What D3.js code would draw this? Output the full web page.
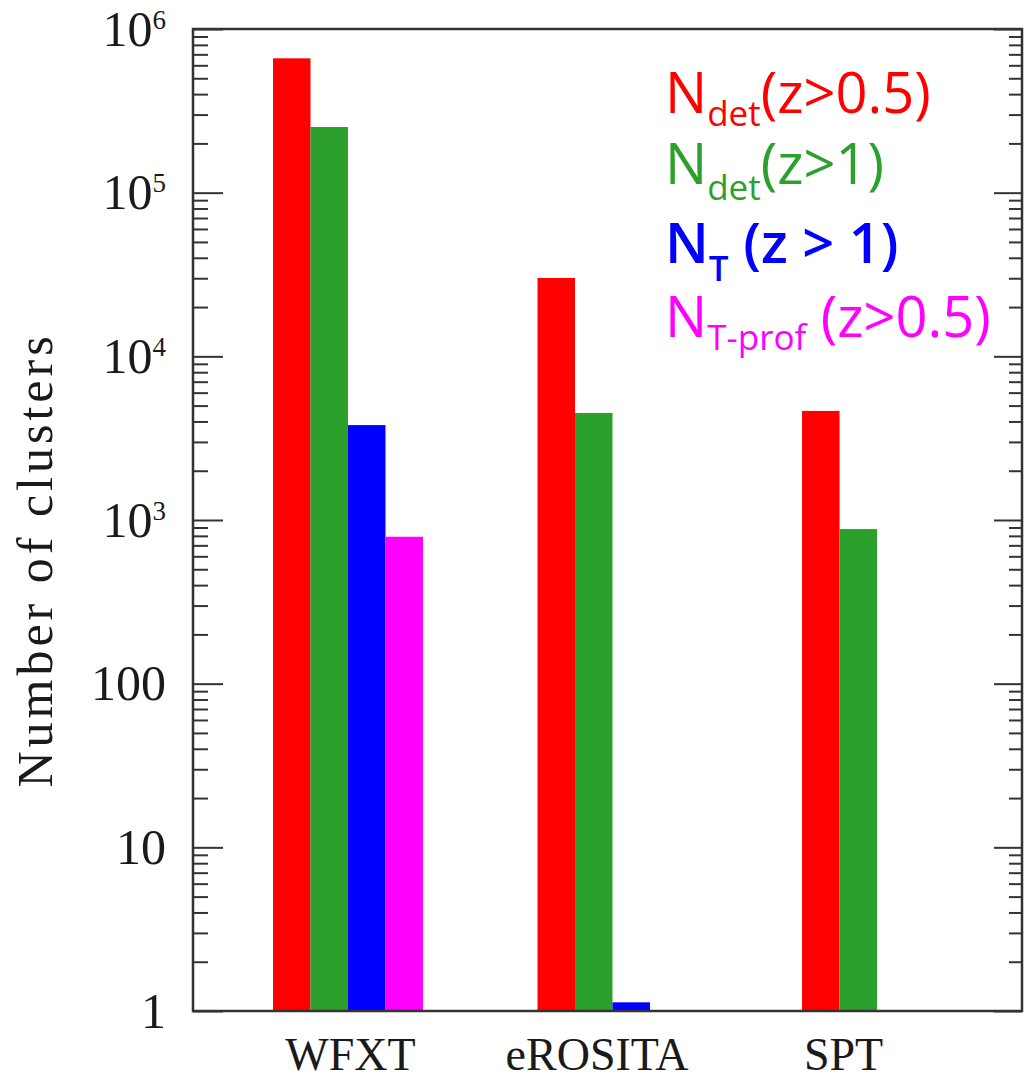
<!DOCTYPE html>
<html lang="en">
<head>
    <meta charset="UTF-8">
    <title>Number of clusters</title>
    <style>
    body { margin: 0; background: #fff; }
    svg { display: block; }
    .tick line { stroke: #333; stroke-width: 2; }
    </style>
</head>
<body>
    <svg class="bar-chart"></svg>

<script src="https://cdn.jsdelivr.net/npm/d3@7"></script>
<script>

    // survey names and counts
    var categories = ["WFXT", "eROSITA", "SPT"];
    var ndetZ05   = [662000, 30100, 4640];
    var ndetZ1    = [252000, 4510, 880];
    var nTz1      = [3800, 1.13, null];
    var nTprofZ05 = [790, null, null];

    var seriesKeys = ["ndetZ05", "ndetZ1", "nTz1", "nTprofZ05"];
    var seriesColors = ["#ff0000", "#2ca02c", "#0000ff", "#ff00ff"];
    var yTickValues = [1, 10, 100, 1e3, 1e4, 1e5, 1e6];

    var svgWidth = 1025, svgHeight = 1081;
    var plotLeft = 193, plotRight = 1022, plotTop = 29, plotBottom = 1011;

    var svg = d3.select("svg")
        .attr("width", svgWidth)
        .attr("height", svgHeight);

    var yScale = d3.scaleLog()
        .domain([1, 1e6])
        .range([plotBottom, plotTop]);

    var x0 = d3.scaleBand()
        .domain(categories)
        .range([273, 952])
        .paddingInner(0.433);

    var x1 = d3.scaleBand()
        .domain(seriesKeys)
        .range([0, x0.bandwidth()]);

    var xLabels = d3.scalePoint()
        .domain(categories)
        .range([350, 843]);

    // one row per category/series pair
    var series = [ndetZ05, ndetZ1, nTz1, nTprofZ05];
    var bars = [];
    categories.forEach(function (c, i) {
        series.forEach(function (s, j) {
            if (s[i] != null) bars.push({cat: c, key: seriesKeys[j], value: s[i], color: seriesColors[j]});
        });
    });

    svg.selectAll("rect.bar")
        .data(bars)
        .enter()
        .append("rect")
        .attr("class", "bar")
        .attr("x", function (d) { return x0(d.cat) + x1(d.key); })
        .attr("width", x1.bandwidth())
        .attr("y", function (d) { return yScale(d.value); })
        .attr("height", function (d) { return yScale(1) - yScale(d.value); })
        .style("fill", function (d) { return d.color; });

    // minor ticks 2..9 in each decade
    var minorTicks = [];
    for (var e = 0; e < 6; e++) {
        for (var m = 2; m < 10; m++) minorTicks.push(m * Math.pow(10, e));
    }

    function styleAxis(g) {
        g.select(".domain").remove();
    }

    svg.append("g")
        .attr("transform", "translate(" + plotLeft + ",0)")
        .call(d3.axisLeft(yScale).tickValues(minorTicks).tickSize(-15).tickFormat(""))
        .call(styleAxis);

    svg.append("g")
        .attr("transform", "translate(" + plotRight + ",0)")
        .call(d3.axisRight(yScale).tickValues(minorTicks).tickSize(-13).tickFormat(""))
        .call(styleAxis);

    svg.append("g")
        .attr("transform", "translate(" + plotRight + ",0)")
        .call(d3.axisRight(yScale).tickValues(yTickValues).tickSize(-28).tickFormat(""))
        .call(styleAxis);

    var yAxis = svg.append("g")
        .attr("transform", "translate(" + plotLeft + ",0)")
        .call(d3.axisLeft(yScale).tickValues(yTickValues).tickSize(-30).tickPadding(27).tickFormat(""))
        .call(styleAxis);

    yAxis.selectAll(".tick text").each(function (d) {
        var t = d3.select(this)
            .attr("fill", "#1a1a1a")
            .style("font-family", "'Liberation Serif', serif")
            .style("font-size", "50px");
        var ex = Math.round(Math.log10(d));
        if (ex < 3) {
            t.text(d);
        } else {
            t.append("tspan").text("10");
            t.append("tspan").text(ex)
                .style("font-size", "27px")
                .attr("dy", "-17");
        }
    });

    // frame
    svg.append("rect")
        .attr("x", plotLeft)
        .attr("y", plotTop)
        .attr("width", plotRight - plotLeft)
        .attr("height", plotBottom - plotTop)
        .attr("fill", "none")
        .attr("stroke", "#333")
        .attr("stroke-width", 2.5);

    var xAxis = svg.append("g")
        .attr("transform", "translate(0," + plotBottom + ")")
        .call(d3.axisBottom(xLabels).tickSize(0).tickPadding(26))
        .call(styleAxis);

    xAxis.selectAll(".tick text")
        .attr("fill", "#1a1a1a")
        .style("font-family", "'Liberation Serif', serif")
        .style("font-size", "46px");

    svg.append("text")
        .attr("transform", "translate(52,560) rotate(-90)")
        .attr("text-anchor", "middle")
        .attr("fill", "#1a1a1a")
        .style("font-family", "'Liberation Serif', serif")
        .style("font-size", "50px")
        .style("letter-spacing", "4px")
        .text("Number of clusters");

    // legend: main text, subscript, rest
    var legendRows = [
        {sub: "det", rest: "(z>0.5)", y: 113, shift: 13, weight: 400},
        {sub: "det", rest: "(z>1)", y: 184, shift: 16, weight: 400},
        {sub: "T", rest: " (z > 1)", y: 263, shift: 18, weight: 600},
        {sub: "T-prof", rest: " (z>0.5)", y: 337, shift: 13, weight: 400}
    ];

    legendRows.forEach(function (r, i) {
        var t = svg.append("text")
            .attr("x", 665)
            .attr("y", r.y)
            .attr("fill", seriesColors[i])
            .style("font-family", "'Open Sans', sans-serif")
            .style("font-size", "56px")
            .style("font-weight", r.weight)
            .style("white-space", "pre");
        t.append("tspan").text("N");
        t.append("tspan").text(r.sub)
            .style("font-size", "35px")
            .attr("dy", r.shift);
        t.append("tspan").text(r.rest)
            .attr("dy", -r.shift);
    });

</script>
</body>
</html>
